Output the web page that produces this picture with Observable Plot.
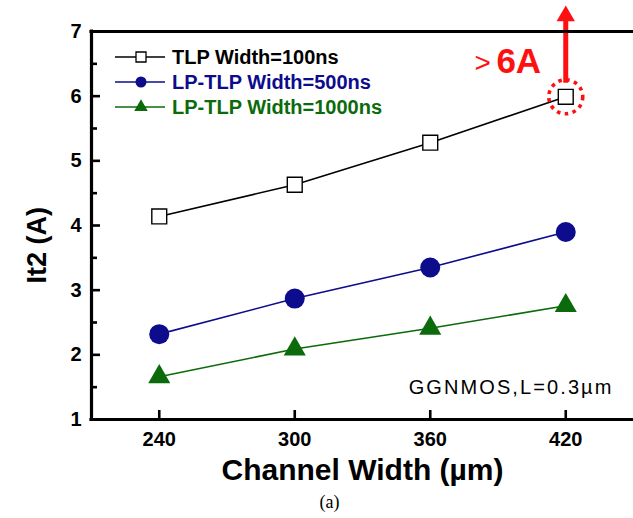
<!DOCTYPE html>
<html>
<head>
<meta charset="utf-8">
<script src="https://cdn.jsdelivr.net/npm/d3@7"></script>
<script src="https://cdn.jsdelivr.net/npm/@observablehq/plot@0.6"></script>
<style>
  body { margin: 0; background: #fff; }
  #chart svg { display: block; }
</style>
</head>
<body>
<div id="chart"></div>
<script>
// Channel widths (µm) and It2 failure currents (A) for each pulse width
const channelWidths = [240, 300, 360, 420];
const tlp100 = [4.14, 4.63, 5.28, 5.99];
const lptlp500 = [2.32, 2.87, 3.35, 3.90];
const lptlp1000 = [1.66, 2.09, 2.41, 2.76];

const seriesNames = ["TLP Width=100ns", "LP-TLP Width=500ns", "LP-TLP Width=1000ns"];
const seriesColors = ["#000000", "#0c0c8c", "#0b6b0b"];
const seriesSymbols = ["square", "circle", "triangle"];

const xTicks = [240, 300, 360, 420];
const yTicks = [1, 2, 3, 4, 5, 6, 7];
const yMinorTicks = [1.5, 2.5, 3.5, 4.5, 5.5, 6.5];
const xDomain = [210, 450];
const yDomain = [1, 7];

const xLabel = "Channel Width (\u00b5m)";
const yLabel = "It2 (A)";
const deviceNote = "GGNMOS,L=0.3\u00b5m";
const panelTag = "(a)";

// The 100 ns point at 420 µm exceeds the 6 A limit of the tester
const overLimit = {x: 420, y: 5.99, prefix: ">", value: "6A", reach: 7.24};

const font = "'Liberation Sans', Arial, sans-serif";
const red = "#ff1010";

const W = 633, H = 518;
const M = {left: 91, right: 0, top: 31, bottom: 99};
const frameW = W - M.left - M.right;
const frameH = H - M.top - M.bottom;
// tick lengths in pixels, converted to data units for the rules below
const pxX = (xDomain[1] - xDomain[0]) / frameW;
const pxY = (yDomain[1] - yDomain[0]) / frameH;

const rows = [];
[tlp100, lptlp500, lptlp1000].forEach((vals, i) => {
  vals.forEach((v, j) => rows.push({series: seriesNames[i], w: channelWidths[j], it2: v}));
});

const marks = [];
// connecting lines
seriesNames.forEach((name, i) => {
  marks.push(Plot.line(rows.filter(d => d.series === name), {
    x: "w", y: "it2", stroke: seriesColors[i], strokeWidth: 1.6
  }));
});
// markers
marks.push(Plot.dot(rows.filter(d => d.series === seriesNames[0]), {
  x: "w", y: "it2", symbol: "square", r: 8.4, fill: "#fff", stroke: "#000", strokeWidth: 1.4
}));
marks.push(Plot.dot(rows.filter(d => d.series === seriesNames[1]), {
  x: "w", y: "it2", symbol: "circle", r: 10, fill: seriesColors[1]
}));
marks.push(Plot.dot(rows.filter(d => d.series === seriesNames[2]), {
  x: "w", y: "it2", symbol: "triangle", r: 8.2, fill: seriesColors[2]
}));

// annotation: dotted ring, arrow and ">6A"
marks.push(Plot.dot([overLimit], {
  x: "x", y: "y", r: 17, fill: "none", stroke: red, strokeWidth: 3.6, strokeDasharray: "3.6,4.4"
}));
marks.push(Plot.ruleX([overLimit], {
  x: "x", y1: d => d.y + 0.21, y2: d => d.reach - 0.05, stroke: red, strokeWidth: 5
}));
marks.push(Plot.dot([overLimit], {
  x: "x", y: "reach", symbol: "triangle", r: 6.8, fill: red
}));
marks.push(Plot.text([overLimit], {
  x: "x", y: "y", text: "prefix", dx: -83, dy: -34, fill: red,
  fontSize: 28, fontWeight: "normal", fontFamily: font
}));
marks.push(Plot.text([overLimit], {
  x: "x", y: "y", text: "value", dx: -47, dy: -35, fill: red,
  fontSize: 35, fontWeight: "bold", fontFamily: font
}));

// inward tick marks
marks.push(Plot.ruleY(yTicks, {y: d => d, x1: xDomain[0], x2: xDomain[0] + 9 * pxX, stroke: "#000", strokeWidth: 2.6}));
marks.push(Plot.ruleY(yMinorTicks, {y: d => d, x1: xDomain[0], x2: xDomain[0] + 6 * pxX, stroke: "#000", strokeWidth: 2.6}));
marks.push(Plot.ruleX(xTicks, {x: d => d, y1: yDomain[0], y2: yDomain[0] + 9 * pxY, stroke: "#000", strokeWidth: 2.6}));

// tick labels
marks.push(Plot.axisY({ticks: yTicks, tickSize: 0, tickPadding: 10, tickFormat: "d", fontSize: 20, fontWeight: "bold", fontFamily: font, label: null}));
marks.push(Plot.axisX({ticks: xTicks, tickSize: 0, tickPadding: 12, tickFormat: "d", fontSize: 20, fontWeight: "bold", fontFamily: font, label: null}));

// frame lines (left, bottom, top)
marks.push(Plot.ruleX([xDomain[0]], {strokeWidth: 3.2, strokeLinecap: "square"}));
marks.push(Plot.ruleY([yDomain[0], yDomain[1]], {strokeWidth: 3.2, strokeLinecap: "square"}));

// axis titles and notes
marks.push(Plot.text([xLabel], {
  text: d => d, frameAnchor: "bottom", dy: 60, fontSize: 30, fontWeight: "bold", fontFamily: font
}));
marks.push(Plot.text([yLabel], {
  text: d => d, frameAnchor: "left", dx: -54, dy: 58, rotate: -90, fontSize: 27, fontWeight: "bold", fontFamily: font
}));
marks.push(Plot.text([deviceNote], {
  text: d => d, frameAnchor: "bottom-right", dx: -20, dy: -26, textAnchor: "end",
  fontSize: 20, fontWeight: "normal", fontFamily: font
}));
marks.push(Plot.text([panelTag], {
  text: d => d, frameAnchor: "bottom", dy: 88, dx: -33, fontSize: 18,
  fontWeight: "normal", fontFamily: "'Liberation Serif', 'Times New Roman', serif"
}));

const svg = Plot.plot({
  width: W,
  height: H,
  marginLeft: M.left,
  marginRight: M.right,
  marginTop: M.top,
  marginBottom: M.bottom,
  x: {domain: xDomain},
  y: {domain: yDomain},
  style: {fontFamily: font, color: "#000", background: "#fff", overflow: "visible"},
  marks
});

const root = d3.select(svg);

// wider letter spacing on the device note
root.selectAll("text")
  .filter(function () { return this.textContent === deviceNote; })
  .style("letter-spacing", "2.1px");

// legend in the upper-left corner of the frame
const legend = root.append("g").attr("transform", "translate(115,57)");
seriesNames.forEach((name, i) => {
  const g = legend.append("g").attr("transform", `translate(0,${i * 25})`);
  g.append("line").attr("x1", 0).attr("x2", 50).attr("y1", 0).attr("y2", 0)
    .attr("stroke", seriesColors[i]).attr("stroke-width", 1.6);
  const sym = d3.symbol().type(
    seriesSymbols[i] === "square" ? d3.symbolSquare :
    seriesSymbols[i] === "circle" ? d3.symbolCircle : d3.symbolTriangle
  ).size(seriesSymbols[i] === "triangle" ? 80 : seriesSymbols[i] === "square" ? 100 : 95);
  g.append("path").attr("d", sym()).attr("transform", "translate(26,0)")
    .attr("fill", i === 0 ? "#fff" : seriesColors[i])
    .attr("stroke", i === 0 ? "#000" : "none").attr("stroke-width", 1.3);
  g.append("text").attr("x", 57).attr("y", 0).attr("dy", "0.35em")
    .attr("text-anchor", "start")
    .attr("fill", seriesColors[i]).attr("font-size", 20).attr("font-weight", "bold")
    .attr("font-family", font).text(name);
});

document.getElementById("chart").appendChild(svg);
</script>
</body>
</html>
